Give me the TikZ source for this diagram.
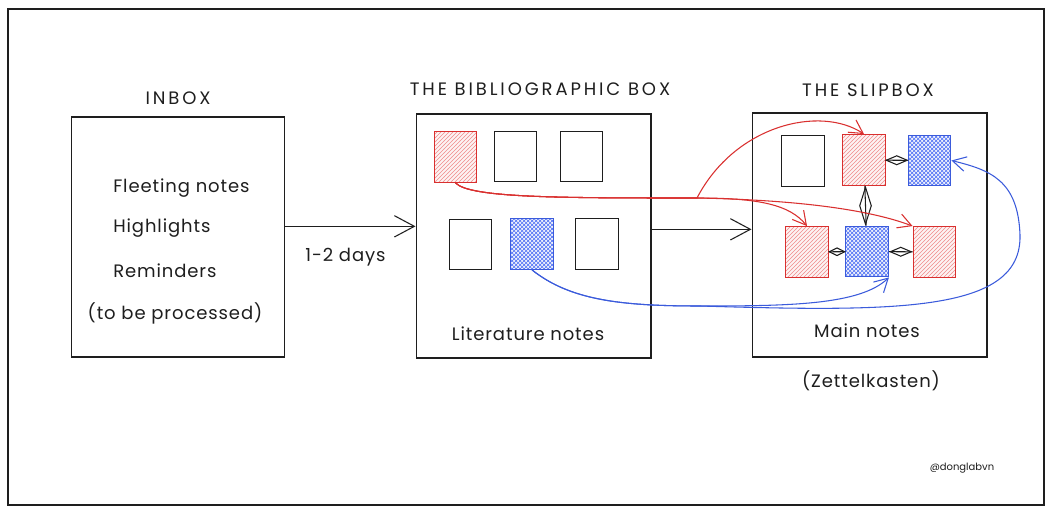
\documentclass[tikz,border=0pt]{standalone}
\usepackage{fontspec}
\setmainfont{Poppins}
\usetikzlibrary{arrows.meta,positioning,shapes.geometric,patterns}

\definecolor{ink}{HTML}{1E1E1E}
\definecolor{notered}{HTML}{D9302F}
\definecolor{hatchred}{HTML}{F08C8C}
\definecolor{noteblue}{HTML}{3B5BDB}
\definecolor{hatchblue}{HTML}{4C6EF5}

\begin{document}
\begin{tikzpicture}[
  x=0.75pt, y=-0.75pt,
  font=\fontsize{13.5}{16}\selectfont\addfontfeatures{LetterSpace=5},
  box/.style={rectangle, draw=ink, line width=1pt, minimum width=176pt, minimum height=183pt, inner sep=0pt},
  title/.style={text=ink, inner sep=0pt, font=\fontsize{13.5}{16}\selectfont\addfontfeatures{LetterSpace=16}},
  txt/.style={text=ink, inner sep=0pt},
  note/.style={rectangle, draw=ink, line width=0.9pt, minimum width=32pt, minimum height=38pt, inner sep=0pt},
  rnote/.style={note, draw=notered, preaction={fill=notered!6}, pattern=north east lines, pattern color=hatchred},
  bnote/.style={note, draw=noteblue, preaction={fill=noteblue!8}, pattern=crosshatch, pattern color=hatchblue},
  flow/.style={-{Straight Barb[length=15pt,width=16pt]}, draw=ink, line width=0.8pt},
  redlink/.style={-{Straight Barb[length=10pt,width=11pt]}, draw=notered, line width=0.8pt},
  bluelink/.style={-{Straight Barb[length=10pt,width=11pt]}, draw=noteblue, line width=0.8pt},
  rel/.style={draw=ink, line width=0.8pt},
  lens/.style={diamond, draw=ink, line width=0.8pt, inner sep=0pt},
  hlens/.style={lens, minimum width=16pt, minimum height=7pt},
  vlens/.style={lens, minimum width=9pt, minimum height=28pt},
]
\useasboundingbox (0,0) rectangle (1053,513);
\draw[ink, line width=0.9pt] (8,9) rectangle (1044,505);

% the three boxes
\node[box, minimum width=160pt, minimum height=180pt] (inbox) at (178,237) {};
\node[box] (bib) at (533.5,236) {};
\node[box] (slip) at (869.5,235) {};
\node[title, anchor=base] (inboxtitle) at (178,105) {INBOX};
\node[title, anchor=base] (bibtitle) at (540,96) {THE BIBLIOGRAPHIC BOX};
\node[title, anchor=base] (sliptitle) at (868,97) {THE SLIPBOX};

% inbox content
\node[txt, anchor=base west] (fleet) at (113,193) {Fleeting notes};
\node[txt, anchor=base west] (high) at (113,233) {Highlights};
\node[txt, anchor=base west] (remind) at (113,277) {Reminders};
\node[txt, anchor=base] (todo) at (175,320) {(to be processed)};

% bibliographic box notes
\node[rnote] (lr1) at (455.5,157) {};
\node[note] (lw1) at (515.5,156.5) {};
\node[note] (lw2) at (581.5,156.5) {};
\node[note] (lw3) at (470.5,244.5) {};
\node[bnote] (lb1) at (532,244) {};
\node[note] (lw4) at (597,244) {};
\node[txt, anchor=base] (litlabel) at (528,340) {Literature notes};

% slipbox notes
\node[note] (sw) at (803,161) {};
\node[rnote] (sr1) at (864,160) {};
\node[bnote] (sb1) at (929.5,160.5) {};
\node[rnote] (sr2) at (807,252) {};
\node[bnote] (sb2) at (867,251.5) {};
\node[rnote] (sr3) at (934.5,252) {};
\node[txt, anchor=base] (mainlabel) at (867,337) {Main notes};
\node[txt, anchor=base] (zettel) at (871,387) {(Zettelkasten)};

% links between main notes
\draw[rel] (sr1) -- node[hlens] (l1) {} (sb1);
\draw[rel] (sr1) -- node[vlens] (l2) {} (sb2);
\draw[rel] (sr2) -- node[hlens, minimum width=12pt, minimum height=6pt] (l3) {} (sb2);
\draw[rel] (sb2) -- node[hlens] (l4) {} (sr3);

% flow between boxes
\coordinate (inout) at ([yshift=8pt]inbox.east);
\coordinate (bibout) at ([yshift=5pt]bib.east);
\draw[flow] (inout) -- (inout -| bib.west);
\node[txt, anchor=base] (days) at (345.5,262) {1-2 days};
\draw[flow] (bibout) -- (bibout -| slip.west);

% red and blue paths
\coordinate (rfork) at (697,198);
\coordinate (bfork) at (700,306);
\coordinate (bturn) at (1020,235);
\draw[redlink] (lr1.south) .. controls (470,198) and (560,198) .. (rfork)
  .. controls (760,198) and (790,205) .. (sr2.north);
\draw[redlink] (lr1.south) .. controls (470,198) and (560,198) .. (rfork)
  .. controls (800,200) and (870,210) .. (sr3.north west);
\draw[redlink] (lr1.south) .. controls (470,198) and (560,198) .. (rfork)
  .. controls (735,125) and (820,105) .. (sr1.north);
\draw[bluelink] (lb1.south) .. controls (570,300) and (620,306) .. (bfork)
  .. controls (790,306) and (860,305) .. (sb2.south east);
\draw[bluelink] (lb1.south) .. controls (570,300) and (620,306) .. (bfork)
  .. controls (900,312) and (1022,312) .. (bturn)
  .. controls (1018,180) and (990,170) .. (sb1.east);

\node[txt, anchor=base, font=\fontsize{7.5}{9}\selectfont] (handle) at (962,470) {@donglabvn};
\end{tikzpicture}
\end{document}
